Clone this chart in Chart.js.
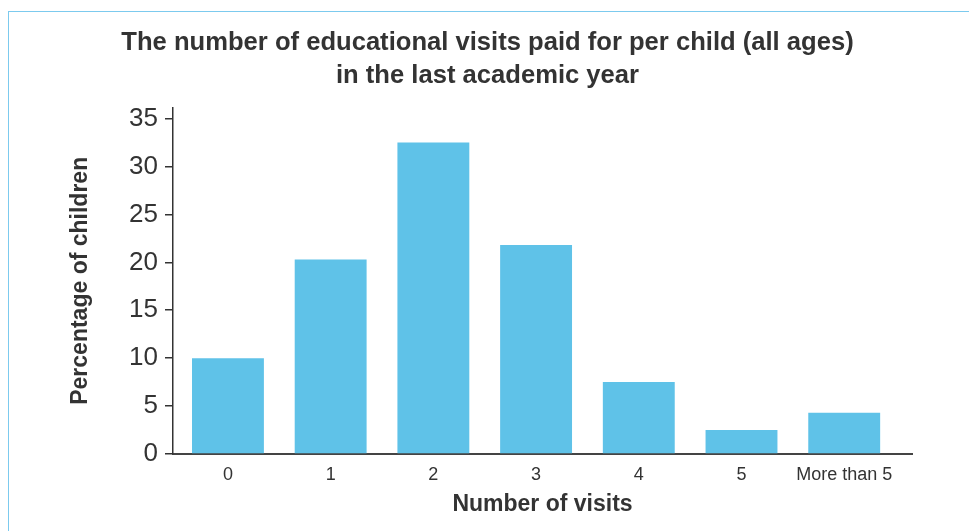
<!DOCTYPE html>
<html>
<head>
<meta charset="utf-8">
<script src="https://cdn.jsdelivr.net/npm/chart.js@4/dist/chart.umd.min.js"></script>
<style>
    html, body { margin: 0; padding: 0; background: #fff; }
    #frame {
        position: absolute; left: 8px; top: 11px; right: 0; bottom: 0;
        border-left: 1.5px solid #7ccaee; border-top: 1.5px solid #7ccaee;
    }
    #wrap { position: absolute; left: 0; top: 0; width: 969px; height: 531px; }
</style>
</head>
<body>
<div id="frame"></div>
<div id="wrap"><canvas id="visitsChart"></canvas></div>
<script>
var categories = ['0', '1', '2', '3', '4', '5', 'More than 5'];
var percentages = [10.0, 20.3, 32.5, 21.8, 7.5, 2.5, 4.3];
var yTicks = [0, 5, 10, 15, 20, 25, 30, 35];

var textColor = '#333333';
var barColor = 'rgb(95, 194, 232)';
var fontFamily = '"Liberation Sans", Arial, Helvetica, sans-serif';

// bars sit on integer positions of a linear x scale
var points = percentages.map(function (v, i) {
    return { x: i, y: v };
});

var ctx = document.getElementById('visitsChart').getContext('2d');
window.visitsChart = new Chart(ctx, {
    type: 'bar',
    data: {
        datasets: [{
            data: points,
            backgroundColor: barColor,
            borderWidth: 0,
            categoryPercentage: 1,
            barPercentage: 0.7
        }]
    },
    options: {
        responsive: true,
        maintainAspectRatio: false,
        animation: false,
        layout: { padding: { left: 63, right: 57, top: 0, bottom: 0 } },
        plugins: {
            legend: { display: false },
            tooltip: { enabled: false },
            title: {
                display: true,
                text: ['The number of educational visits paid for per child (all ages)', 'in the last academic year'],
                color: textColor,
                font: { family: fontFamily, size: 25.6, weight: 'bold', lineHeight: 1.3 },
                padding: { top: 26, bottom: 15 }
            }
        },
        scales: {
            x: {
                type: 'linear',
                offset: false,
                min: -0.535,
                max: 6.66,
                grid: { display: false },
                border: { display: true, color: '#444444', width: 2 },
                afterBuildTicks: function (scale) {
                    scale.ticks = categories.map(function (c, i) { return { value: i }; });
                },
                afterFit: function (scale) { scale.height = 77; },
                ticks: {
                    color: textColor,
                    padding: 2,
                    maxRotation: 0,
                    autoSkip: false,
                    font: { family: fontFamily, size: 18 },
                    callback: function (value) { return categories[value]; }
                },
                title: {
                    display: true,
                    text: 'Number of visits',
                    color: textColor,
                    font: { family: fontFamily, size: 23, weight: 'bold' },
                    padding: { top: 0, bottom: 13 }
                }
            },
            y: {
                min: 0,
                max: 36.15,
                grid: {
                    display: true,
                    drawOnChartArea: false,
                    drawTicks: true,
                    tickLength: 8,
                    color: textColor,
                    lineWidth: 1.5
                },
                border: { display: true, color: textColor, width: 1.5 },
                afterBuildTicks: function (scale) {
                    scale.ticks = yTicks.map(function (v) { return { value: v }; });
                },
                afterFit: function (scale) { scale.width = 110; },
                ticks: {
                    color: textColor,
                    padding: 7,
                    font: { family: fontFamily, size: 26 }
                },
                title: {
                    display: true,
                    text: 'Percentage of children',
                    color: textColor,
                    font: { family: fontFamily, size: 23, weight: 'bold' },
                    padding: { top: 4, bottom: 0 }
                }
            }
        }
    }
});
</script>
</body>
</html>
